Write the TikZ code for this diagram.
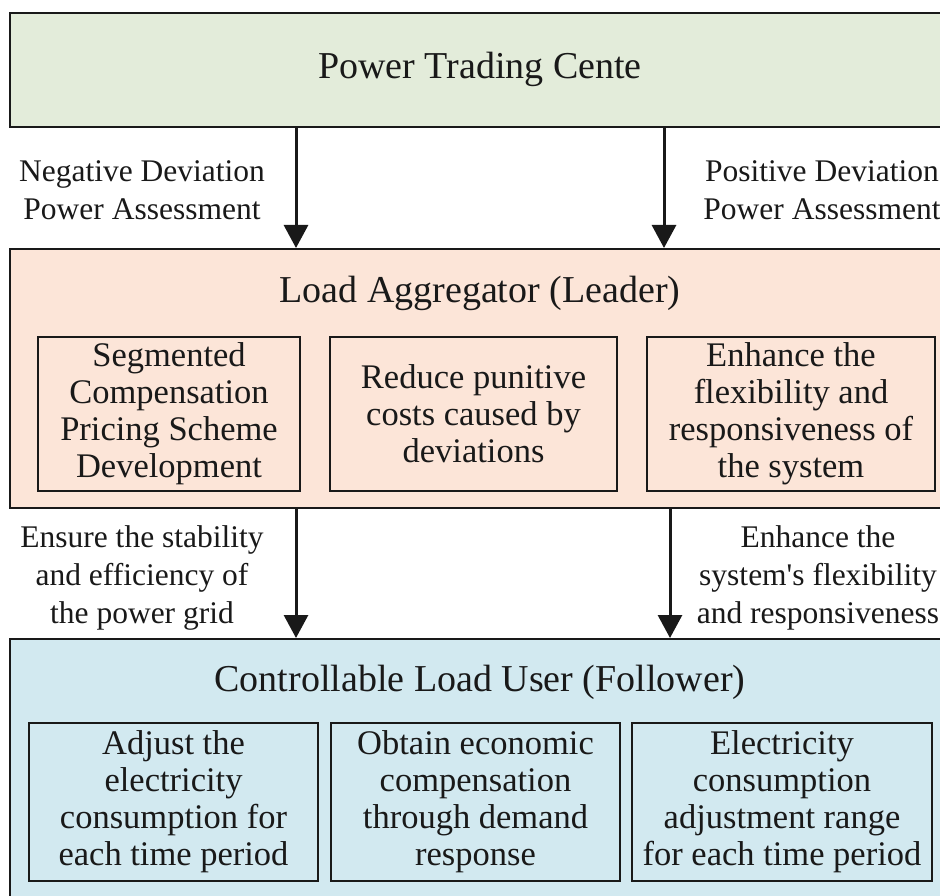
\documentclass[tikz,border=0pt]{standalone}
\usepackage{fontspec}
\setmainfont{Liberation Serif}
\usetikzlibrary{arrows.meta}
\definecolor{pgreen}{RGB}{227,236,218}
\definecolor{ppink}{RGB}{252,229,216}
\definecolor{pblue}{RGB}{210,233,240}
\definecolor{ink}{RGB}{25,25,25}
\tikzset{
  panel/.style={draw=ink, line width=2pt, rectangle, inner sep=0pt},
  subbox/.style={draw=ink, line width=2pt, rectangle, inner sep=0pt, align=center,
     text=ink, font=\fontsize{34.5}{37}\selectfont},
  titletext/.style={text=ink, font=\fontsize{38}{42}\selectfont, inner sep=0pt},
  lbl/.style={text=ink, align=center, font=\fontsize{31.5}{38}\selectfont, inner sep=0pt},
  arr/.style={draw=ink, line width=3pt, -{Triangle[length=23pt,width=24pt]}}
}
\begin{document}
\begin{tikzpicture}[x=1pt,y=1pt]
\useasboundingbox (0,0) rectangle (940,-896);
\clip (0,0) rectangle (940,-896);
% panels
\node[panel, fill=pgreen, minimum width=940pt, minimum height=114pt] (ptc) at (480,-70) {};
\node[titletext] (ptctitle) at (480,-69) {Power Trading Cente};
\node[panel, fill=ppink, minimum width=940pt, minimum height=259pt] (la) at (480,-378.5) {};
\node[titletext] (latitle) at (480,-293) {Load Aggregator (Leader)};
\node[panel, fill=pblue, minimum width=940pt, minimum height=275pt] (clu) at (480,-776.5) {};
\node[titletext] (clutitle) at (480,-682) {Controllable Load User (Follower)};
% leader sub-boxes
\node[subbox, fill=ppink, minimum width=262pt, minimum height=154pt] (la1) at (169,-414)
  {Segmented\\Compensation\\Pricing Scheme\\Development};
\node[subbox, fill=ppink, minimum width=287pt, minimum height=154pt] (la2) at (473.5,-414)
  {Reduce punitive\\costs caused by\\deviations};
\node[subbox, fill=ppink, minimum width=288pt, minimum height=154pt] (la3) at (791,-414)
  {Enhance the\\flexibility and\\responsiveness of\\the system};
% follower sub-boxes
\node[subbox, fill=pblue, minimum width=289pt, minimum height=158pt] (cl1) at (173.5,-802)
  {Adjust the\\electricity\\consumption for\\each time period};
\node[subbox, fill=pblue, minimum width=289pt, minimum height=158pt] (cl2) at (475.5,-802)
  {Obtain economic\\compensation\\through demand\\response};
\node[subbox, fill=pblue, minimum width=300pt, minimum height=158pt] (cl3) at (782,-802)
  {Electricity\\consumption\\adjustment range\\for each time period};
% arrows
\coordinate (ax1) at (296,0);
\coordinate (ax2) at (664,0);
\coordinate (ax3) at (296,0);
\coordinate (ax4) at (670,0);
\draw[arr] (ptc.south -| ax1) -- (la.north -| ax1);
\draw[arr] (ptc.south -| ax2) -- (la.north -| ax2);
\draw[arr] (la.south -| ax3) -- (clu.north -| ax3);
\draw[arr] (la.south -| ax4) -- (clu.north -| ax4);
% labels
\node[lbl] (l1) at (142,-190) {Negative Deviation\\Power Assessment};
\node[lbl] (l2) at (822,-190) {Positive Deviation\\Power Assessment};
\node[lbl] (l3) at (142,-578) {Ensure the stability\\and efficiency of\\the power grid};
\node[lbl] (l4) at (818,-578) {Enhance the\\system\textquotesingle s flexibility\\and responsiveness};
\end{tikzpicture}
\end{document}
